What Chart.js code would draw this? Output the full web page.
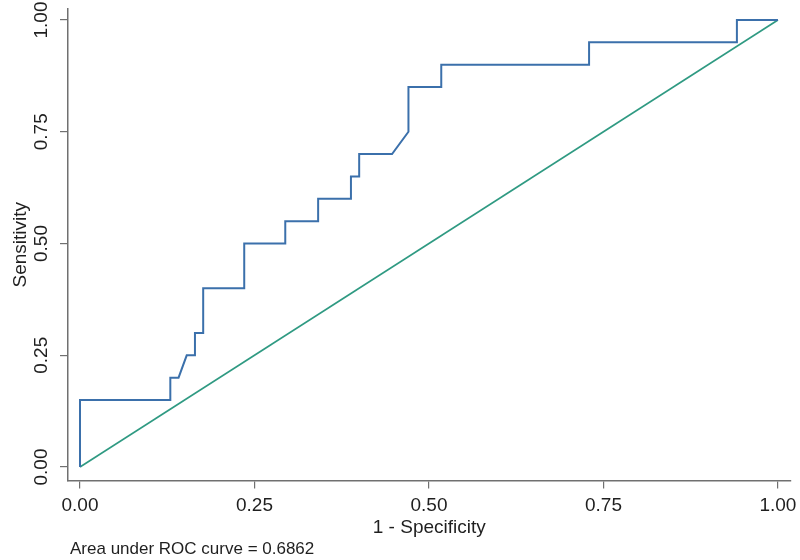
<!DOCTYPE html>
<html>
<head>
<meta charset="utf-8">
<script src="https://cdn.jsdelivr.net/npm/chart.js@4"></script>
<style>
  html, body { margin: 0; padding: 0; background: #ffffff; }
  #wrap { width: 800px; height: 560px; position: relative; }
</style>
</head>
<body>
<div id="wrap"><canvas id="c" width="800" height="560"></canvas></div>
<script>
// ---- data ----
const rocFpr = [0, 0, 0.1294, 0.1294, 0.1412, 0.1529, 0.1647, 0.1647, 0.1765, 0.1765,
                0.2353, 0.2353, 0.2941, 0.2941, 0.3412, 0.3412, 0.3882, 0.3882, 0.4000, 0.4000,
                0.4471, 0.4706, 0.4706, 0.5176, 0.5176, 0.7294, 0.7294, 0.9412, 0.9412, 1.0];
const rocTpr = [0, 0.15, 0.15, 0.20, 0.20, 0.25, 0.25, 0.30, 0.30, 0.40,
                0.40, 0.50, 0.50, 0.55, 0.55, 0.60, 0.60, 0.65, 0.65, 0.70,
                0.70, 0.75, 0.85, 0.85, 0.90, 0.90, 0.95, 0.95, 1.00, 1.00];
const refX = [0, 1];
const refY = [0, 1];
const tickValues = [0, 0.25, 0.5, 0.75, 1];
const tickLabels = ['0.00', '0.25', '0.50', '0.75', '1.00'];
const xTitle = '1 - Specificity';
const yTitle = 'Sensitivity';
const aucNote = 'Area under ROC curve = 0.6862';

const FONT = '"Liberation Sans", Arial, Helvetica, sans-serif';
const TEXT = '#1f1f1f';
const AXIS = '#707070';

const toPoints = (xs, ys) => xs.map((x, i) => ({ x: x, y: ys[i] }));

const fixTicks = (scale) => {
  scale.ticks = tickValues.map(v => ({ value: v }));
};

const notePlugin = {
  id: 'note',
  afterDraw(chart) {
    const ctx = chart.ctx;
    ctx.save();
    ctx.font = '17px ' + FONT;
    ctx.fillStyle = TEXT;
    ctx.textAlign = 'left';
    ctx.textBaseline = 'middle';
    ctx.fillText(aucNote, 70, 549);
    ctx.restore();
  }
};

new Chart(document.getElementById('c'), {
  type: 'scatter',
  data: {
    datasets: [
      {
        label: 'ROC',
        data: toPoints(rocFpr, rocTpr),
        showLine: true,
        borderColor: '#3b70ab',
        borderWidth: 2,
        pointRadius: 0,
        fill: false,
        tension: 0,
        order: 1
      },
      {
        label: 'Reference',
        data: toPoints(refX, refY),
        showLine: true,
        borderColor: '#2f9a82',
        borderWidth: 1.6,
        pointRadius: 0,
        fill: false,
        tension: 0,
        order: 2
      }
    ]
  },
  options: {
    responsive: false,
    animation: false,
    devicePixelRatio: 1,
    layout: { padding: { left: 0, top: 9, right: 9.5, bottom: 0 } },
    plugins: {
      legend: { display: false },
      tooltip: { enabled: false }
    },
    scales: {
      x: {
        type: 'linear',
        min: -0.0172,
        max: 1.018,
        afterBuildTicks: fixTicks,
        afterFit: (s) => { s.height = 79.5; s.paddingRight = 0; s.paddingLeft = 0; },
        border: { display: true, color: AXIS, width: 1.5 },
        grid: { display: true, drawOnChartArea: false, drawTicks: true, tickLength: 8, color: AXIS, lineWidth: 1.2 },
        ticks: {
          padding: 6,
          maxRotation: 0,
          minRotation: 0,
          color: TEXT,
          font: { family: FONT, size: 19 },
          callback: (v) => tickLabels[tickValues.indexOf(v)]
        },
        title: {
          display: true,
          text: xTitle,
          color: TEXT,
          font: { family: FONT, size: 19 },
          padding: { top: 0, bottom: 21 }
        }
      },
      y: {
        type: 'linear',
        min: -0.0301,
        max: 1.0246,
        afterBuildTicks: fixTicks,
        afterFit: (s) => { s.width = 68; s.paddingTop = 0; s.paddingBottom = 0; },
        border: { display: true, color: AXIS, width: 1.5 },
        grid: { display: true, drawOnChartArea: false, drawTicks: true, tickLength: 8, color: AXIS, lineWidth: 1.2 },
        ticks: {
          padding: 0,
          minRotation: 90,
          maxRotation: 90,
          crossAlign: 'center',
          color: TEXT,
          font: { family: FONT, size: 19 },
          callback: (v) => tickLabels[tickValues.indexOf(v)]
        },
        title: {
          display: true,
          text: yTitle,
          color: TEXT,
          font: { family: FONT, size: 19 },
          padding: { top: 9, bottom: 0 }
        }
      }
    }
  },
  plugins: [notePlugin]
});
</script>
</body>
</html>
